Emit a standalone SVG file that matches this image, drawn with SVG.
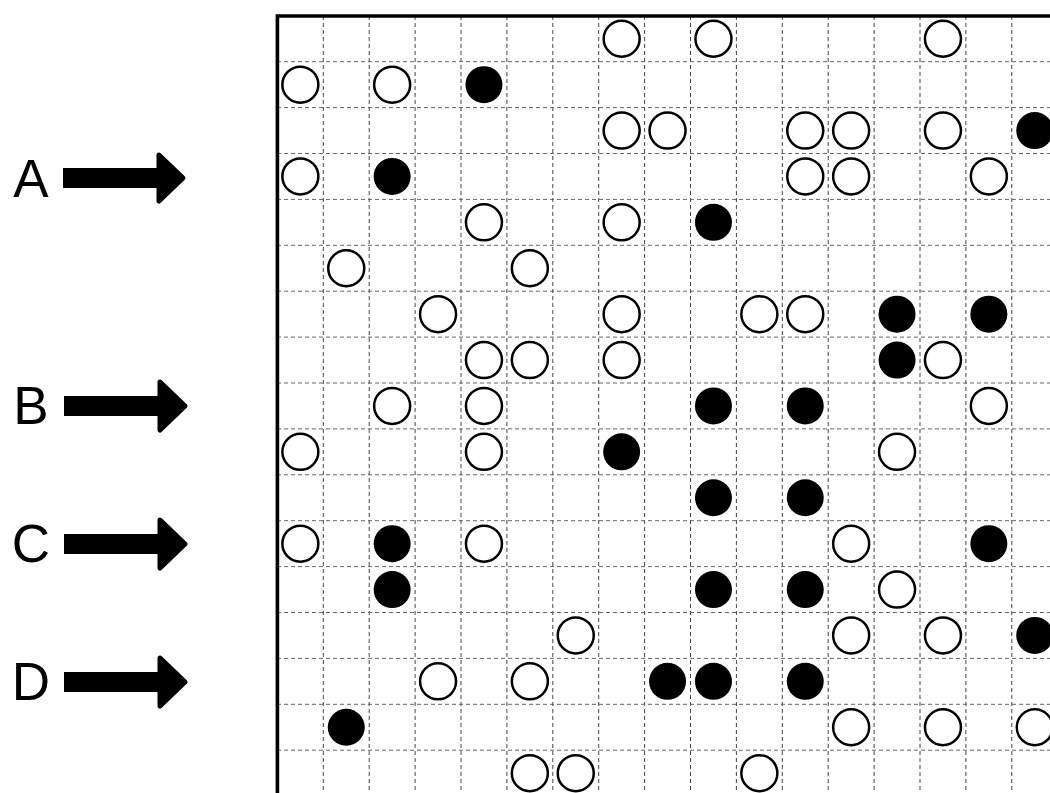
<svg xmlns="http://www.w3.org/2000/svg" width="1050" height="793" viewBox="0 0 1050 793">
<style>
.gv{stroke:#444;stroke-width:1;stroke-dasharray:4,3;fill:none}
.gh{stroke:#666;stroke-width:1;stroke-dasharray:4,3;fill:none}
.bd{stroke:#000;stroke-width:3.6;fill:none}
.o{fill:#fff;stroke:#000;stroke-width:2.5}
.f{fill:#000}
.lbl{font-family:"Liberation Sans",Arial,sans-serif;font-size:53px;fill:#000;text-anchor:middle}
.ah{fill:#000;stroke:#000;stroke-width:5;stroke-linejoin:round}
</style>
<rect width="1050" height="793" fill="#fff"/>
<g id="grid">
<path class="gv" d="M323.3 16V793M369.2 16V793M415.1 16V793M461 16V793M506.9 16V793M552.8 16V793M598.7 16V793M644.6 16V793M690.5 16V793M736.4 16V793M782.3 16V793M828.2 16V793M874.1 16V793M920 16V793M965.9 16V793M1011.8 16V793"/>
<path class="gh" d="M277 61.7H1050M277 107.6H1050M277 153.5H1050M277 199.4H1050M277 245.3H1050M277 291.2H1050M277 337.1H1050M277 383H1050M277 428.9H1050M277 474.8H1050M277 520.7H1050M277 566.6H1050M277 612.5H1050M277 658.4H1050M277 704.3H1050M277 750.2H1050"/>
<path class="bd" d="M277.4 793V16H1050"/>
</g>
<g id="arrows">
<g id="arrow-A"><text class="lbl" x="31" y="197">A</text><rect x="63" y="168" width="98" height="20"/><polygon class="ah" points="159,155 183,178 159,201"/></g>
<g id="arrow-B"><text class="lbl" x="31" y="424">B</text><rect x="64" y="396" width="98" height="20"/><polygon class="ah" points="160,382 185,406 160,430"/></g>
<g id="arrow-C"><text class="lbl" x="31" y="562">C</text><rect x="64" y="534" width="98" height="20"/><polygon class="ah" points="160,520 185,544 160,568"/></g>
<g id="arrow-D"><text class="lbl" x="31" y="700">D</text><rect x="64" y="672" width="98" height="20"/><polygon class="ah" points="160,658 185,682 160,706"/></g>
</g>
<g id="stones">
<g id="row0"><circle class="o" cx="621.65" cy="38.75" r="18"/><circle class="o" cx="713.45" cy="38.75" r="18"/><circle class="o" cx="942.95" cy="38.75" r="18"/></g>
<g id="row1"><circle class="o" cx="300.35" cy="84.65" r="18"/><circle class="o" cx="392.15" cy="84.65" r="18"/><circle class="f" cx="483.95" cy="84.65" r="18.5"/></g>
<g id="row2"><circle class="o" cx="621.65" cy="130.55" r="18"/><circle class="o" cx="667.55" cy="130.55" r="18"/><circle class="o" cx="805.25" cy="130.55" r="18"/><circle class="o" cx="851.15" cy="130.55" r="18"/><circle class="o" cx="942.95" cy="130.55" r="18"/><circle class="f" cx="1034.75" cy="130.55" r="18.5"/></g>
<g id="row3"><circle class="o" cx="300.35" cy="176.45" r="18"/><circle class="f" cx="392.15" cy="176.45" r="18.5"/><circle class="o" cx="805.25" cy="176.45" r="18"/><circle class="o" cx="851.15" cy="176.45" r="18"/><circle class="o" cx="988.85" cy="176.45" r="18"/></g>
<g id="row4"><circle class="o" cx="483.95" cy="222.35" r="18"/><circle class="o" cx="621.65" cy="222.35" r="18"/><circle class="f" cx="713.45" cy="222.35" r="18.5"/></g>
<g id="row5"><circle class="o" cx="346.25" cy="268.25" r="18"/><circle class="o" cx="529.85" cy="268.25" r="18"/></g>
<g id="row6"><circle class="o" cx="438.05" cy="314.15" r="18"/><circle class="o" cx="621.65" cy="314.15" r="18"/><circle class="o" cx="759.35" cy="314.15" r="18"/><circle class="o" cx="805.25" cy="314.15" r="18"/><circle class="f" cx="897.05" cy="314.15" r="18.5"/><circle class="f" cx="988.85" cy="314.15" r="18.5"/></g>
<g id="row7"><circle class="o" cx="483.95" cy="360.05" r="18"/><circle class="o" cx="529.85" cy="360.05" r="18"/><circle class="o" cx="621.65" cy="360.05" r="18"/><circle class="f" cx="897.05" cy="360.05" r="18.5"/><circle class="o" cx="942.95" cy="360.05" r="18"/></g>
<g id="row8"><circle class="o" cx="392.15" cy="405.95" r="18"/><circle class="o" cx="483.95" cy="405.95" r="18"/><circle class="f" cx="713.45" cy="405.95" r="18.5"/><circle class="f" cx="805.25" cy="405.95" r="18.5"/><circle class="o" cx="988.85" cy="405.95" r="18"/></g>
<g id="row9"><circle class="o" cx="300.35" cy="451.85" r="18"/><circle class="o" cx="483.95" cy="451.85" r="18"/><circle class="f" cx="621.65" cy="451.85" r="18.5"/><circle class="o" cx="897.05" cy="451.85" r="18"/></g>
<g id="row10"><circle class="f" cx="713.45" cy="497.75" r="18.5"/><circle class="f" cx="805.25" cy="497.75" r="18.5"/></g>
<g id="row11"><circle class="o" cx="300.35" cy="543.65" r="18"/><circle class="f" cx="392.15" cy="543.65" r="18.5"/><circle class="o" cx="483.95" cy="543.65" r="18"/><circle class="o" cx="851.15" cy="543.65" r="18"/><circle class="f" cx="988.85" cy="543.65" r="18.5"/></g>
<g id="row12"><circle class="f" cx="392.15" cy="589.55" r="18.5"/><circle class="f" cx="713.45" cy="589.55" r="18.5"/><circle class="f" cx="805.25" cy="589.55" r="18.5"/><circle class="o" cx="897.05" cy="589.55" r="18"/></g>
<g id="row13"><circle class="o" cx="575.75" cy="635.45" r="18"/><circle class="o" cx="851.15" cy="635.45" r="18"/><circle class="o" cx="942.95" cy="635.45" r="18"/><circle class="f" cx="1034.75" cy="635.45" r="18.5"/></g>
<g id="row14"><circle class="o" cx="438.05" cy="681.35" r="18"/><circle class="o" cx="529.85" cy="681.35" r="18"/><circle class="f" cx="667.55" cy="681.35" r="18.5"/><circle class="f" cx="713.45" cy="681.35" r="18.5"/><circle class="f" cx="805.25" cy="681.35" r="18.5"/></g>
<g id="row15"><circle class="f" cx="346.25" cy="727.25" r="18.5"/><circle class="o" cx="851.15" cy="727.25" r="18"/><circle class="o" cx="942.95" cy="727.25" r="18"/><circle class="o" cx="1034.75" cy="727.25" r="18"/></g>
<g id="row16"><circle class="o" cx="529.85" cy="773.15" r="18"/><circle class="o" cx="575.75" cy="773.15" r="18"/><circle class="o" cx="759.35" cy="773.15" r="18"/></g>
</g>
</svg>
